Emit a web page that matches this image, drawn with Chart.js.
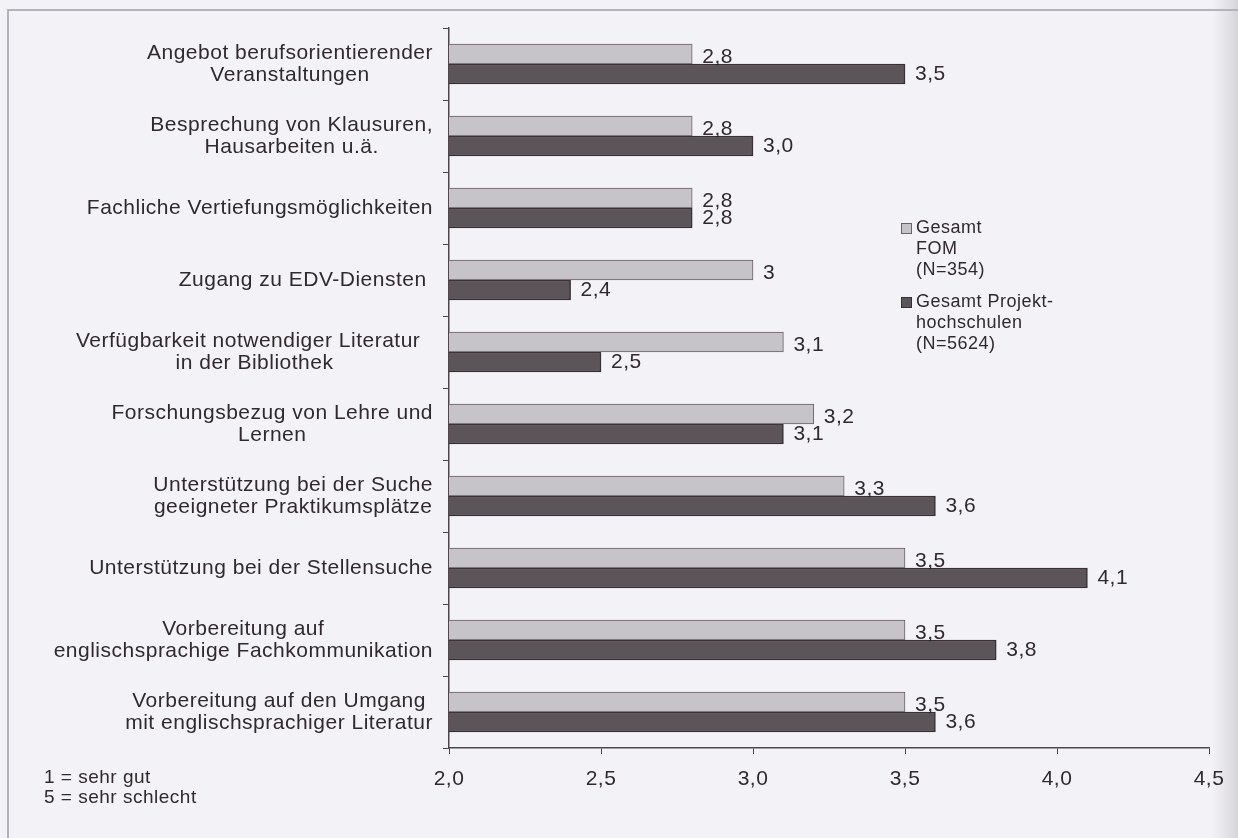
<!DOCTYPE html>
<html lang="de">
<head>
<meta charset="utf-8">
<title>Bewertung der Studienbedingungen</title>
<script src="https://cdn.jsdelivr.net/npm/chart.js@4"></script>
<style>
  html, body { margin: 0; padding: 0; background: #f3f2f6; }
  canvas { display: block; }
</style>
</head>
<body>
<canvas id="myChart" width="1238" height="838"></canvas>
<script>
const categories = [
  ["Angebot berufsorientierender", "Veranstaltungen"],
  ["Besprechung von Klausuren,", "Hausarbeiten u.ä."],
  ["Fachliche Vertiefungsmöglichkeiten"],
  ["Zugang zu EDV-Diensten "],
  ["Verfügbarkeit notwendiger Literatur  ", "in der Bibliothek"],
  ["Forschungsbezug von Lehre und", "Lernen"],
  ["Unterstützung bei der Suche", "geeigneter Praktikumsplätze"],
  ["Unterstützung bei der Stellensuche"],
  ["Vorbereitung auf", "englischsprachige Fachkommunikation"],
  ["Vorbereitung auf den Umgang", "mit englischsprachiger Literatur"],
];

const fomValues = [2.8, 2.8, 2.8, 3, 3.1, 3.2, 3.3, 3.5, 3.5, 3.5];
const projektValues = [3.5, 3.0, 2.8, 2.4, 2.5, 3.1, 3.6, 4.1, 3.8, 3.6];

// number of decimals printed next to each bar
const fomDecimals = [1, 1, 1, 0, 1, 1, 1, 1, 1, 1];
const projektDecimals = [1, 1, 1, 1, 1, 1, 1, 1, 1, 1];

const legendLabels = [
  ["Gesamt", "FOM", "(N=354)"],
  ["Gesamt Projekt-", "hochschulen", "(N=5624)"],
];
const scaleNote = ["1 = sehr gut", "5 = sehr schlecht"];

const xTicks = { min: 2.0, max: 4.5, step: 0.5 };

const textColor = "#302a2e";
const font = "Liberation Sans, Arial, sans-serif";
const spacing = "0.5px";
const lightFill = "#c6c4c8";
const lightBorder = "#6b6167";
const darkFill = "#5b5458";
const darkBorder = "#3a3034";

const deComma = (v, d) => v.toFixed(d).replace(".", ",");

// page background, scan frame and the faint shadow on the right edge
const paper = {
  id: "paper",
  beforeLayout(chart) {
    chart.ctx.letterSpacing = spacing;
  },
  beforeDraw(chart) {
    const { ctx, width, height } = chart;
    ctx.letterSpacing = spacing;
    ctx.save();
    ctx.fillStyle = "#f3f2f6";
    ctx.fillRect(0, 0, width, height);
    const g = ctx.createLinearGradient(1212, 0, width, 0);
    g.addColorStop(0, "rgba(180,178,186,0)");
    g.addColorStop(1, "rgba(170,168,176,0.4)");
    ctx.fillStyle = g;
    ctx.fillRect(1212, 0, width - 1212, height);
    ctx.strokeStyle = "#b4b2ba";
    ctx.lineWidth = 2;
    ctx.beginPath();
    ctx.moveTo(8, height);
    ctx.lineTo(8, 10);
    ctx.lineTo(width, 10);
    ctx.stroke();
    ctx.restore();
  },
};

// category names: block right-aligned at the axis, lines centred in the block
const categoryNames = {
  id: "categoryNames",
  afterDraw(chart) {
    const { ctx } = chart;
    const y = chart.scales.y;
    const right = 433;
    const lineH = 22;
    ctx.save();
    ctx.font = "21px " + font;
    ctx.fillStyle = textColor;
    ctx.textAlign = "center";
    ctx.textBaseline = "middle";
    categories.forEach((lines, i) => {
      const cy = y.getPixelForValue(i);
      const w = Math.max(...lines.map((l) => ctx.measureText(l).width));
      const cx = right - w / 2;
      lines.forEach((l, k) => {
        ctx.fillText(l, cx, cy + (k - (lines.length - 1) / 2) * lineH);
      });
    });
    ctx.restore();
  },
};

// value printed to the right of each bar
const barValues = {
  id: "barValues",
  afterDatasetsDraw(chart) {
    const { ctx } = chart;
    const decimals = [fomDecimals, projektDecimals];
    const shift = [3, 0];
    ctx.save();
    ctx.font = "21px " + font;
    ctx.fillStyle = textColor;
    ctx.textAlign = "left";
    ctx.textBaseline = "middle";
    chart.data.datasets.forEach((ds, di) => {
      chart.getDatasetMeta(di).data.forEach((bar, i) => {
        ctx.fillText(deComma(ds.data[i], decimals[di][i]), bar.x + 10, bar.y + shift[di]);
      });
    });
    ctx.restore();
  },
};

// legend box and the rating scale note
const sideTexts = {
  id: "sideTexts",
  afterDraw(chart) {
    const { ctx } = chart;
    const fills = [lightFill, darkFill];
    const borders = [lightBorder, darkBorder];
    const tops = [223, 297];
    ctx.save();
    ctx.font = "18px " + font;
    ctx.textBaseline = "middle";
    ctx.textAlign = "left";
    legendLabels.forEach((lines, i) => {
      ctx.fillStyle = fills[i];
      ctx.fillRect(901, tops[i], 11, 11);
      ctx.strokeStyle = borders[i];
      ctx.lineWidth = 1;
      ctx.strokeRect(901.5, tops[i] + 0.5, 10, 10);
      ctx.fillStyle = textColor;
      lines.forEach((l, k) => ctx.fillText(l, 916, tops[i] + 5 + k * 21));
    });
    ctx.font = "19px " + font;
    scaleNote.forEach((l, k) => ctx.fillText(l, 44, 778 + k * 20));
    ctx.restore();
  },
};

const data = {
  labels: categories,
  datasets: [
    {
      label: legendLabels[0].join(" "),
      data: fomValues,
      backgroundColor: lightFill,
      borderColor: lightBorder,
      borderWidth: 1,
      barThickness: 20,
    },
    {
      label: legendLabels[1].join(" "),
      data: projektValues,
      backgroundColor: darkFill,
      borderColor: darkBorder,
      borderWidth: 1.5,
      barThickness: 20,
    },
  ],
};

// config
const config = {
  type: "bar",
  data,
  options: {
    indexAxis: "y",
    responsive: false,
    animation: false,
    layout: { padding: { top: 28, right: 29, left: 0, bottom: 0 } },
    plugins: {
      legend: { display: false },
      tooltip: { enabled: false },
    },
    scales: {
      x: {
        min: xTicks.min,
        max: xTicks.max,
        ticks: {
          stepSize: xTicks.step,
          color: textColor,
          padding: 13,
          font: { family: font, size: 21 },
          callback: (v) => deComma(v, 1),
        },
        grid: { drawOnChartArea: false, tickLength: 6, color: "#4e464b" },
        border: { color: "#4e464b", width: 1.5 },
        afterFit(scale) {
          scale.height = 90;
        },
      },
      y: {
        ticks: { display: false },
        grid: { drawOnChartArea: false, tickLength: 6, color: "#4e464b", offset: true },
        border: { color: "#4e464b", width: 1.5 },
        afterFit(scale) {
          scale.width = 449;
        },
      },
    },
  },
  plugins: [paper, categoryNames, barValues, sideTexts],
};

// render init block
const myChart = new Chart(document.getElementById("myChart"), config);
</script>
</body>
</html>
